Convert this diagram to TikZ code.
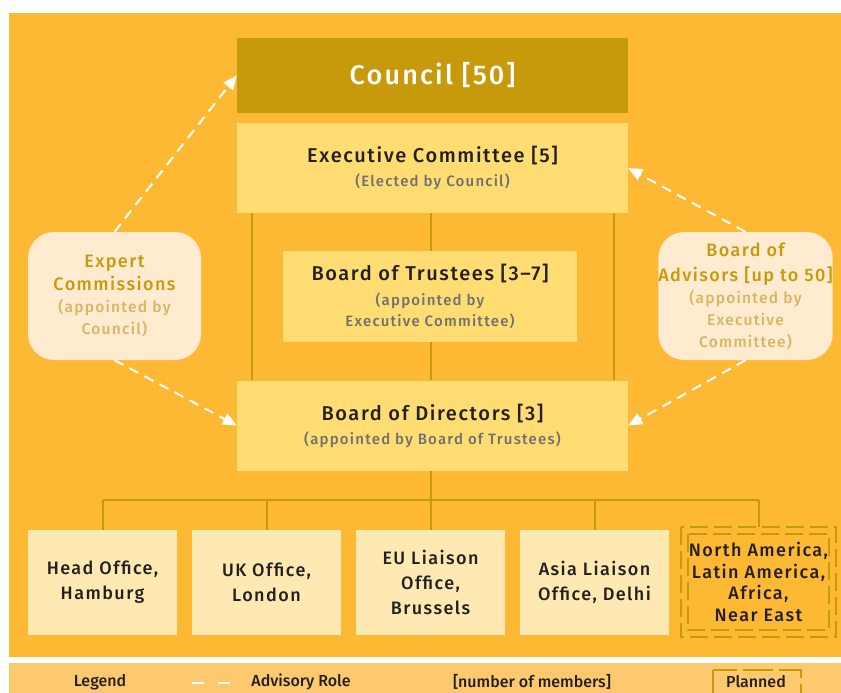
\documentclass[tikz,border=0pt]{standalone}
\usepackage{fontspec}
\setmainfont{Fira Sans}[BoldFont={Fira Sans Medium}, LetterSpace=8]
\usetikzlibrary{arrows.meta}

\definecolor{panel}{HTML}{FDB933}
\definecolor{legendband}{HTML}{FDC96E}
\definecolor{councilfill}{HTML}{C79A0B}
\definecolor{midfill}{HTML}{FFDD72}
\definecolor{officefill}{HTML}{FEE9B2}
\definecolor{roundfill}{HTML}{FEEBD0}
\definecolor{gold}{HTML}{C79A0B}
\definecolor{lightgold}{HTML}{D8B561}
\definecolor{subgray}{HTML}{707070}
\definecolor{ink}{HTML}{231F20}

\newcommand\headline[1]{{\fontsize{20}{24}\selectfont\bfseries #1}}
\newcommand\subline[1]{{\bfseries\color{subgray}#1}}
\newcommand\roundhead[1]{{\fontsize{18}{24}\selectfont\bfseries #1}}
\newcommand\roundsub[1]{{\bfseries\color{lightgold}#1}}

\tikzset{
  box/.style={rectangle, inner sep=0pt, align=center, text=ink},
  midbox/.style={box, fill=midfill, minimum width=391pt, minimum height=90pt,
    font=\fontsize{15}{24}\selectfont},
  officebox/.style={box, fill=officefill, minimum width=149pt, minimum height=105pt,
    font=\fontsize{18}{25}\selectfont\bfseries},
  roundbox/.style={box, fill=roundfill, rounded corners=26pt, minimum width=173pt,
    minimum height=128pt, text=gold, font=\fontsize{15.5}{22}\selectfont},
  tree/.style={draw=gold, line width=2pt},
  advisory/.style={draw=white, line width=2pt, dash pattern=on 10pt off 7pt,
    -{Triangle[length=14pt,width=12pt,fill=white]}},
  plannedline/.style={draw=gold, line width=2pt, dash pattern=on 18pt off 6pt},
  legendtext/.style={text=ink, inner sep=0pt,
    font=\fontsize{16}{18}\selectfont\bfseries\addfontfeatures{LetterSpace=0}},
}

\begin{document}
\begin{tikzpicture}[x=1pt,y=-1pt]
\useasboundingbox (0,0) rectangle (841,693);
\fill[white] (0,0) rectangle (841,693);
\fill[panel] (9,13) rectangle (841,657);
\fill[legendband] (9,663) rectangle (841,693);

% governing bodies
\node[box, fill=councilfill, minimum width=391pt, minimum height=75pt, text=white,
  font=\fontsize{27}{30}\selectfont\bfseries] (council) at (432.5,75.5) {Council [50]};
\node[midbox] (exec) at (432.5,168) {\headline{Executive Committee [5]}\\\subline{(Elected by Council)}};
\node[midbox] (directors) at (432.5,425.5) {\headline{Board of Directors [3]}\\\subline{(appointed by Board of Trustees)}};

% links between executive committee and directors
\draw[tree] ([xshift=15pt]exec.south west) -- ([xshift=15pt]directors.north west);
\draw[tree] ([xshift=-14pt]exec.south east) -- ([xshift=-14pt]directors.north east);
\draw[tree] ([xshift=-1.5pt]exec.south) -- ([xshift=-1.5pt]directors.north);

\node[midbox, minimum width=294pt, minimum height=91pt] (trustees) at (430,296)
  {\headline{Board of Trustees [3–7]}\\[1pt]\subline{(appointed by}\\[-3pt]\subline{Executive Committee)}};

% advisory bodies
\node[roundbox] (expert) at (114.5,296)
  {\roundhead{Expert}\\[1pt]\roundhead{Commissions}\\\roundsub{(appointed by}\\\roundsub{Council)}};
\node[roundbox] (advisors) at (745.5,296)
  {\roundhead{Board of}\\[3pt]\roundhead{Advisors [up to 50]}\\\roundsub{(appointed by}\\\roundsub{Executive}\\\roundsub{Committee)}};

% offices
\node[officebox] (head) at (102.5,582.5) {Head Office,\\Hamburg};
\node[officebox] (uk) at (266.5,582.5) {UK Office,\\London};
\node[officebox] (eu) at (430.5,582.5) {EU Liaison\\Office,\\Brussels};
\node[officebox] (asia) at (594.5,582.5) {Asia Liaison\\Office, Delhi};
\node[box, minimum width=155pt, minimum height=110pt, font=\fontsize{18}{21.5}\selectfont\bfseries]
  (planned) at (758.5,582) {North America,\\Latin America,\\Africa,\\Near East};
\draw[plannedline] (planned.north west) rectangle (planned.south east);
\draw[plannedline] ([shift={(7,7)}]planned.north west) rectangle ([shift={(-7,-7)}]planned.south east);

% reporting tree to the offices
\coordinate (bus) at (431,500);
\draw[tree] ([xshift=-1.5pt]directors.south) -- (bus);
\draw[tree] (head.north |- bus) -- (planned.north |- bus);
\foreach \o in {head,uk,eu,asia,planned}
  \draw[tree] (\o.north |- bus) -- (\o.north);

% advisory roles
\draw[advisory] (expert.north) -- (council.west);
\draw[advisory] (expert.south) -- (directors.west);
\draw[advisory] (advisors.north) -- (exec.east);
\draw[advisory] (advisors.south) -- (directors.east);

% legend
\node[legendtext] (lgd) at (100,682) {Legend};
\coordinate (dashA) at (192,683);
\coordinate (dashB) at (230,683);
\draw[white, line width=2pt, dash pattern=on 12pt off 14pt] (dashA) -- (dashB);
\node[legendtext] (lrole) at (301,682) {Advisory Role};
\node[legendtext] (lmembers) at (532,682) {[number of members]};
\node[legendtext] (lplanned) at (756,682) {Planned};
\draw[draw=gold, line width=2pt, dash pattern=on 30pt off 6pt]
  ([shift={(-43,-12)}]lplanned.center) rectangle ([shift={(45,20)}]lplanned.center);
\end{tikzpicture}
\end{document}
